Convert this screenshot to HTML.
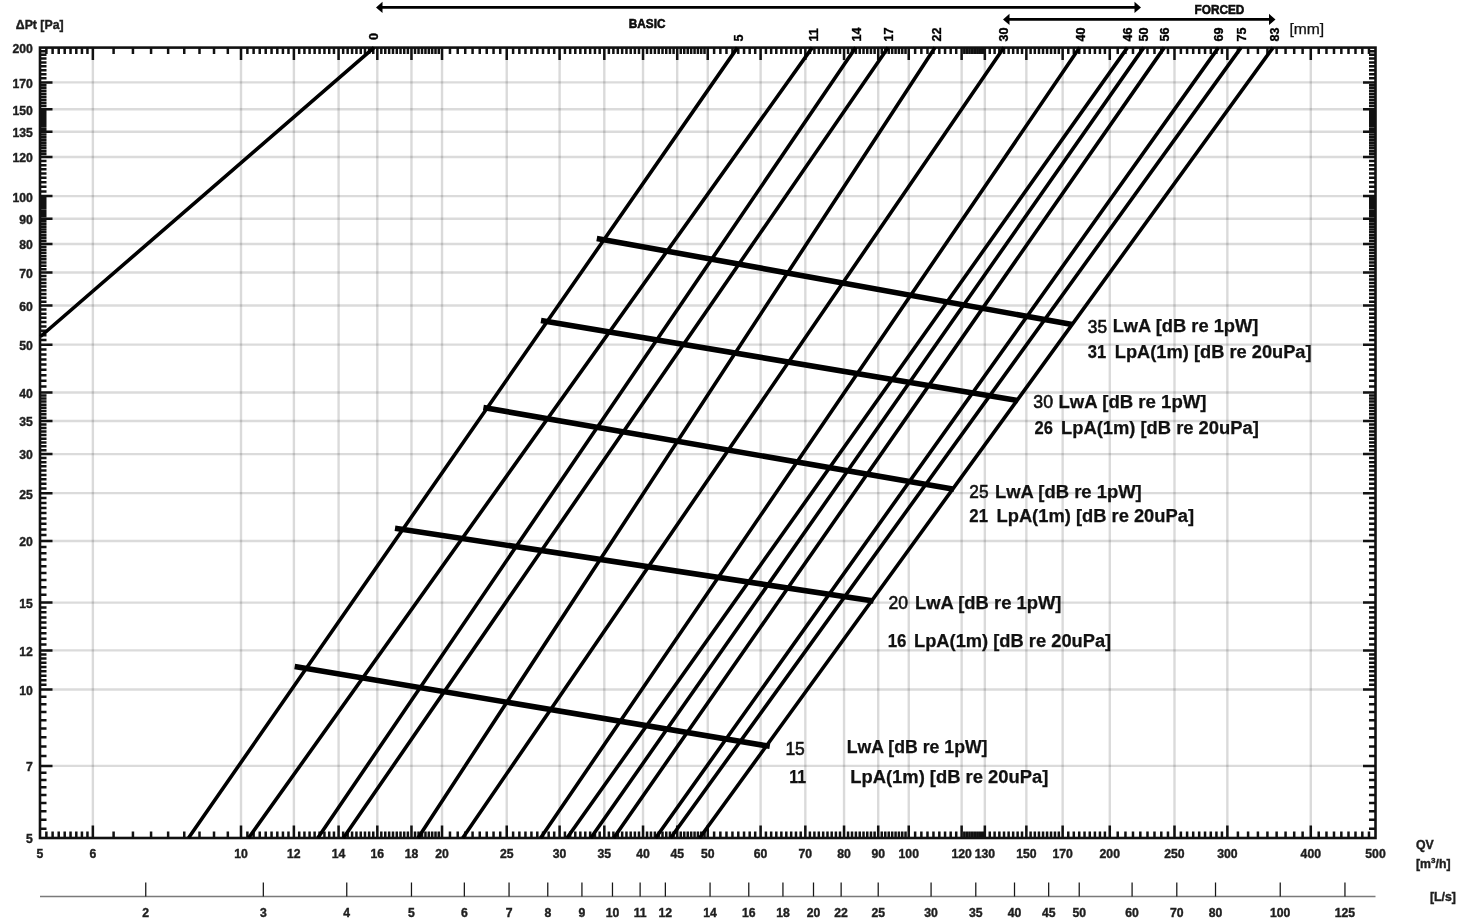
<!DOCTYPE html>
<html><head><meta charset="utf-8"><title>Chart</title>
<style>html,body{margin:0;padding:0;background:#fff;}svg{display:block;}</style>
</head><body>
<svg width="1466" height="922" viewBox="0 0 1466 922">
<rect width="1466" height="922" fill="#fff"/>
<path d="M92.87 47.6V838M241.01 47.6V838M293.89 47.6V838M338.59 47.6V838M377.31 47.6V838M411.47 47.6V838M442.03 47.6V838M506.74 47.6V838M559.61 47.6V838M604.31 47.6V838M643.04 47.6V838M677.2 47.6V838M707.75 47.6V838M760.62 47.6V838M805.33 47.6V838M844.05 47.6V838M878.21 47.6V838M908.76 47.6V838M961.64 47.6V838M984.85 47.6V838M1026.35 47.6V838M1062.65 47.6V838M1109.78 47.6V838M1174.49 47.6V838M1227.36 47.6V838M1310.79 47.6V838" stroke="#000" stroke-opacity="0.145" stroke-width="2.4" fill="none"/>
<path d="M40 765.91H1375.5M40 689.48H1375.5M40 650.42H1375.5M40 602.61H1375.5M40 540.96H1375.5M40 493.15H1375.5M40 454.09H1375.5M40 421.06H1375.5M40 392.45H1375.5M40 344.64H1375.5M40 305.57H1375.5M40 272.54H1375.5M40 243.93H1375.5M40 218.69H1375.5M40 196.12H1375.5M40 157.05H1375.5M40 131.82H1375.5M40 109.24H1375.5M40 82.42H1375.5" stroke="#000" stroke-opacity="0.14" stroke-width="2.4" fill="none"/>
<path d="M46.37 838v-6.5M46.37 47.6v6.5M52.61 838v-6.5M52.61 47.6v6.5M58.72 838v-6.5M58.72 47.6v6.5M64.7 838v-6.5M64.7 47.6v6.5M70.55 838v-6.5M70.55 47.6v6.5M76.3 838v-6.5M76.3 47.6v6.5M81.93 838v-6.5M81.93 47.6v6.5M87.45 838v-6.5M87.45 47.6v6.5M113.6 838v-6.5M113.6 47.6v6.5M132.94 838v-6.5M132.94 47.6v6.5M151.07 838v-6.5M151.07 47.6v6.5M168.13 838v-6.5M168.13 47.6v6.5M184.25 838v-6.5M184.25 47.6v6.5M199.51 838v-6.5M199.51 47.6v6.5M214.02 838v-6.5M214.02 47.6v6.5M227.83 838v-6.5M227.83 47.6v6.5M247.39 838v-6.5M247.39 47.6v6.5M253.62 838v-6.5M253.62 47.6v6.5M259.73 838v-6.5M259.73 47.6v6.5M265.71 838v-6.5M265.71 47.6v6.5M271.57 838v-6.5M271.57 47.6v6.5M277.31 838v-6.5M277.31 47.6v6.5M282.94 838v-6.5M282.94 47.6v6.5M288.47 838v-6.5M288.47 47.6v6.5M299.21 838v-6.5M299.21 47.6v6.5M304.43 838v-6.5M304.43 47.6v6.5M309.57 838v-6.5M309.57 47.6v6.5M314.61 838v-6.5M314.61 47.6v6.5M319.57 838v-6.5M319.57 47.6v6.5M324.44 838v-6.5M324.44 47.6v6.5M329.23 838v-6.5M329.23 47.6v6.5M333.95 838v-6.5M333.95 47.6v6.5M343.16 838v-6.5M343.16 47.6v6.5M347.65 838v-6.5M347.65 47.6v6.5M352.08 838v-6.5M352.08 47.6v6.5M356.44 838v-6.5M356.44 47.6v6.5M360.74 838v-6.5M360.74 47.6v6.5M364.97 838v-6.5M364.97 47.6v6.5M369.14 838v-6.5M369.14 47.6v6.5M373.26 838v-6.5M373.26 47.6v6.5M381.31 838v-6.5M381.31 47.6v6.5M385.26 838v-6.5M385.26 47.6v6.5M389.15 838v-6.5M389.15 47.6v6.5M392.99 838v-6.5M392.99 47.6v6.5M396.78 838v-6.5M396.78 47.6v6.5M400.53 838v-6.5M400.53 47.6v6.5M404.22 838v-6.5M404.22 47.6v6.5M407.87 838v-6.5M407.87 47.6v6.5M415.03 838v-6.5M415.03 47.6v6.5M418.54 838v-6.5M418.54 47.6v6.5M422.02 838v-6.5M422.02 47.6v6.5M425.45 838v-6.5M425.45 47.6v6.5M428.84 838v-6.5M428.84 47.6v6.5M432.19 838v-6.5M432.19 47.6v6.5M435.51 838v-6.5M435.51 47.6v6.5M438.79 838v-6.5M438.79 47.6v6.5M449.97 838v-6.5M449.97 47.6v6.5M457.71 838v-6.5M457.71 47.6v6.5M465.24 838v-6.5M465.24 47.6v6.5M472.58 838v-6.5M472.58 47.6v6.5M479.74 838v-6.5M479.74 47.6v6.5M486.73 838v-6.5M486.73 47.6v6.5M493.55 838v-6.5M493.55 47.6v6.5M500.22 838v-6.5M500.22 47.6v6.5M513.11 838v-6.5M513.11 47.6v6.5M519.35 838v-6.5M519.35 47.6v6.5M525.45 838v-6.5M525.45 47.6v6.5M531.43 838v-6.5M531.43 47.6v6.5M537.29 838v-6.5M537.29 47.6v6.5M543.03 838v-6.5M543.03 47.6v6.5M548.67 838v-6.5M548.67 47.6v6.5M554.19 838v-6.5M554.19 47.6v6.5M564.93 838v-6.5M564.93 47.6v6.5M570.16 838v-6.5M570.16 47.6v6.5M575.29 838v-6.5M575.29 47.6v6.5M580.33 838v-6.5M580.33 47.6v6.5M585.29 838v-6.5M585.29 47.6v6.5M590.17 838v-6.5M590.17 47.6v6.5M594.96 838v-6.5M594.96 47.6v6.5M599.67 838v-6.5M599.67 47.6v6.5M608.88 838v-6.5M608.88 47.6v6.5M613.38 838v-6.5M613.38 47.6v6.5M617.81 838v-6.5M617.81 47.6v6.5M622.17 838v-6.5M622.17 47.6v6.5M626.46 838v-6.5M626.46 47.6v6.5M630.7 838v-6.5M630.7 47.6v6.5M634.87 838v-6.5M634.87 47.6v6.5M638.98 838v-6.5M638.98 47.6v6.5M647.04 838v-6.5M647.04 47.6v6.5M650.98 838v-6.5M650.98 47.6v6.5M654.88 838v-6.5M654.88 47.6v6.5M658.72 838v-6.5M658.72 47.6v6.5M662.51 838v-6.5M662.51 47.6v6.5M666.25 838v-6.5M666.25 47.6v6.5M669.95 838v-6.5M669.95 47.6v6.5M673.59 838v-6.5M673.59 47.6v6.5M680.75 838v-6.5M680.75 47.6v6.5M684.27 838v-6.5M684.27 47.6v6.5M687.74 838v-6.5M687.74 47.6v6.5M691.17 838v-6.5M691.17 47.6v6.5M694.57 838v-6.5M694.57 47.6v6.5M697.92 838v-6.5M697.92 47.6v6.5M701.23 838v-6.5M701.23 47.6v6.5M704.51 838v-6.5M704.51 47.6v6.5M714.12 838v-6.5M714.12 47.6v6.5M720.36 838v-6.5M720.36 47.6v6.5M726.47 838v-6.5M726.47 47.6v6.5M732.45 838v-6.5M732.45 47.6v6.5M738.3 838v-6.5M738.3 47.6v6.5M744.05 838v-6.5M744.05 47.6v6.5M749.68 838v-6.5M749.68 47.6v6.5M755.2 838v-6.5M755.2 47.6v6.5M765.94 838v-6.5M765.94 47.6v6.5M771.17 838v-6.5M771.17 47.6v6.5M776.3 838v-6.5M776.3 47.6v6.5M781.35 838v-6.5M781.35 47.6v6.5M786.3 838v-6.5M786.3 47.6v6.5M791.18 838v-6.5M791.18 47.6v6.5M795.97 838v-6.5M795.97 47.6v6.5M800.69 838v-6.5M800.69 47.6v6.5M809.89 838v-6.5M809.89 47.6v6.5M814.39 838v-6.5M814.39 47.6v6.5M818.82 838v-6.5M818.82 47.6v6.5M823.18 838v-6.5M823.18 47.6v6.5M827.48 838v-6.5M827.48 47.6v6.5M831.71 838v-6.5M831.71 47.6v6.5M835.88 838v-6.5M835.88 47.6v6.5M840 838v-6.5M840 47.6v6.5M848.05 838v-6.5M848.05 47.6v6.5M852 838v-6.5M852 47.6v6.5M855.89 838v-6.5M855.89 47.6v6.5M859.73 838v-6.5M859.73 47.6v6.5M863.52 838v-6.5M863.52 47.6v6.5M867.26 838v-6.5M867.26 47.6v6.5M870.96 838v-6.5M870.96 47.6v6.5M874.61 838v-6.5M874.61 47.6v6.5M881.77 838v-6.5M881.77 47.6v6.5M885.28 838v-6.5M885.28 47.6v6.5M888.75 838v-6.5M888.75 47.6v6.5M892.19 838v-6.5M892.19 47.6v6.5M895.58 838v-6.5M895.58 47.6v6.5M898.93 838v-6.5M898.93 47.6v6.5M902.25 838v-6.5M902.25 47.6v6.5M905.52 838v-6.5M905.52 47.6v6.5M915.14 838v-6.5M915.14 47.6v6.5M921.37 838v-6.5M921.37 47.6v6.5M927.48 838v-6.5M927.48 47.6v6.5M933.46 838v-6.5M933.46 47.6v6.5M939.32 838v-6.5M939.32 47.6v6.5M945.06 838v-6.5M945.06 47.6v6.5M950.69 838v-6.5M950.69 47.6v6.5M956.22 838v-6.5M956.22 47.6v6.5M964.31 838v-6.5M964.31 47.6v6.5M966.96 838v-6.5M966.96 47.6v6.5M969.58 838v-6.5M969.58 47.6v6.5M972.18 838v-6.5M972.18 47.6v6.5M974.76 838v-6.5M974.76 47.6v6.5M977.32 838v-6.5M977.32 47.6v6.5M979.85 838v-6.5M979.85 47.6v6.5M982.36 838v-6.5M982.36 47.6v6.5M989.76 838v-6.5M989.76 47.6v6.5M994.6 838v-6.5M994.6 47.6v6.5M999.35 838v-6.5M999.35 47.6v6.5M1004.03 838v-6.5M1004.03 47.6v6.5M1008.63 838v-6.5M1008.63 47.6v6.5M1013.16 838v-6.5M1013.16 47.6v6.5M1017.63 838v-6.5M1017.63 47.6v6.5M1022.02 838v-6.5M1022.02 47.6v6.5M1030.61 838v-6.5M1030.61 47.6v6.5M1034.82 838v-6.5M1034.82 47.6v6.5M1038.96 838v-6.5M1038.96 47.6v6.5M1043.04 838v-6.5M1043.04 47.6v6.5M1047.07 838v-6.5M1047.07 47.6v6.5M1051.04 838v-6.5M1051.04 47.6v6.5M1054.96 838v-6.5M1054.96 47.6v6.5M1058.83 838v-6.5M1058.83 47.6v6.5M1068.28 838v-6.5M1068.28 47.6v6.5M1073.8 838v-6.5M1073.8 47.6v6.5M1079.22 838v-6.5M1079.22 47.6v6.5M1084.54 838v-6.5M1084.54 47.6v6.5M1089.77 838v-6.5M1089.77 47.6v6.5M1094.9 838v-6.5M1094.9 47.6v6.5M1099.94 838v-6.5M1099.94 47.6v6.5M1104.9 838v-6.5M1104.9 47.6v6.5M1117.72 838v-6.5M1117.72 47.6v6.5M1125.46 838v-6.5M1125.46 47.6v6.5M1132.99 838v-6.5M1132.99 47.6v6.5M1140.33 838v-6.5M1140.33 47.6v6.5M1147.49 838v-6.5M1147.49 47.6v6.5M1154.48 838v-6.5M1154.48 47.6v6.5M1161.3 838v-6.5M1161.3 47.6v6.5M1167.97 838v-6.5M1167.97 47.6v6.5M1180.86 838v-6.5M1180.86 47.6v6.5M1187.1 838v-6.5M1187.1 47.6v6.5M1193.2 838v-6.5M1193.2 47.6v6.5M1199.18 838v-6.5M1199.18 47.6v6.5M1205.04 838v-6.5M1205.04 47.6v6.5M1210.78 838v-6.5M1210.78 47.6v6.5M1216.42 838v-6.5M1216.42 47.6v6.5M1221.94 838v-6.5M1221.94 47.6v6.5M1237.91 838v-6.5M1237.91 47.6v6.5M1248.08 838v-6.5M1248.08 47.6v6.5M1257.92 838v-6.5M1257.92 47.6v6.5M1267.42 838v-6.5M1267.42 47.6v6.5M1276.63 838v-6.5M1276.63 47.6v6.5M1285.56 838v-6.5M1285.56 47.6v6.5M1294.21 838v-6.5M1294.21 47.6v6.5M1302.62 838v-6.5M1302.62 47.6v6.5M1318.73 838v-6.5M1318.73 47.6v6.5M1326.47 838v-6.5M1326.47 47.6v6.5M1334 838v-6.5M1334 47.6v6.5M1341.34 838v-6.5M1341.34 47.6v6.5M1348.5 838v-6.5M1348.5 47.6v6.5M1355.49 838v-6.5M1355.49 47.6v6.5M1362.32 838v-6.5M1362.32 47.6v6.5M1368.98 838v-6.5M1368.98 47.6v6.5M92.87 838v-12.5M92.87 47.6v12.5M241.01 838v-12.5M241.01 47.6v12.5M293.89 838v-12.5M293.89 47.6v12.5M338.59 838v-12.5M338.59 47.6v12.5M377.31 838v-12.5M377.31 47.6v12.5M411.47 838v-12.5M411.47 47.6v12.5M442.03 838v-12.5M442.03 47.6v12.5M506.74 838v-12.5M506.74 47.6v12.5M559.61 838v-12.5M559.61 47.6v12.5M604.31 838v-12.5M604.31 47.6v12.5M643.04 838v-12.5M643.04 47.6v12.5M677.2 838v-12.5M677.2 47.6v12.5M707.75 838v-12.5M707.75 47.6v12.5M760.62 838v-12.5M760.62 47.6v12.5M805.33 838v-12.5M805.33 47.6v12.5M844.05 838v-12.5M844.05 47.6v12.5M878.21 838v-12.5M878.21 47.6v12.5M908.76 838v-12.5M908.76 47.6v12.5M961.64 838v-12.5M961.64 47.6v12.5M984.85 838v-12.5M984.85 47.6v12.5M1026.35 838v-12.5M1026.35 47.6v12.5M1062.65 838v-12.5M1062.65 47.6v12.5M1109.78 838v-12.5M1109.78 47.6v12.5M1174.49 838v-12.5M1174.49 47.6v12.5M1227.36 838v-12.5M1227.36 47.6v12.5M1310.79 838v-12.5M1310.79 47.6v12.5M40 828.68h6.5M1375.5 828.68h-6.5M40 819.75h6.5M1375.5 819.75h-6.5M40 811.18h6.5M1375.5 811.18h-6.5M40 802.94h6.5M1375.5 802.94h-6.5M40 795h6.5M1375.5 795h-6.5M40 787.35h6.5M1375.5 787.35h-6.5M40 779.96h6.5M1375.5 779.96h-6.5M40 772.82h6.5M1375.5 772.82h-6.5M40 755.94h6.5M1375.5 755.94h-6.5M40 746.41h6.5M1375.5 746.41h-6.5M40 737.29h6.5M1375.5 737.29h-6.5M40 728.55h6.5M1375.5 728.55h-6.5M40 720.14h6.5M1375.5 720.14h-6.5M40 712.06h6.5M1375.5 712.06h-6.5M40 704.27h6.5M1375.5 704.27h-6.5M40 696.75h6.5M1375.5 696.75h-6.5M40 684.77h6.5M1375.5 684.77h-6.5M40 680.17h6.5M1375.5 680.17h-6.5M40 675.65h6.5M1375.5 675.65h-6.5M40 671.24h6.5M1375.5 671.24h-6.5M40 666.91h6.5M1375.5 666.91h-6.5M40 662.66h6.5M1375.5 662.66h-6.5M40 658.5h6.5M1375.5 658.5h-6.5M40 654.42h6.5M1375.5 654.42h-6.5M40 644.55h6.5M1375.5 644.55h-6.5M40 638.83h6.5M1375.5 638.83h-6.5M40 633.27h6.5M1375.5 633.27h-6.5M40 627.84h6.5M1375.5 627.84h-6.5M40 622.55h6.5M1375.5 622.55h-6.5M40 617.39h6.5M1375.5 617.39h-6.5M40 612.35h6.5M1375.5 612.35h-6.5M40 607.42h6.5M1375.5 607.42h-6.5M40 594.81h6.5M1375.5 594.81h-6.5M40 587.29h6.5M1375.5 587.29h-6.5M40 580.03h6.5M1375.5 580.03h-6.5M40 573h6.5M1375.5 573h-6.5M40 566.2h6.5M1375.5 566.2h-6.5M40 559.61h6.5M1375.5 559.61h-6.5M40 553.21h6.5M1375.5 553.21h-6.5M40 547h6.5M1375.5 547h-6.5M40 535.09h6.5M1375.5 535.09h-6.5M40 529.38h6.5M1375.5 529.38h-6.5M40 523.81h6.5M1375.5 523.81h-6.5M40 518.39h6.5M1375.5 518.39h-6.5M40 513.1h6.5M1375.5 513.1h-6.5M40 507.94h6.5M1375.5 507.94h-6.5M40 502.89h6.5M1375.5 502.89h-6.5M40 497.97h6.5M1375.5 497.97h-6.5M40 488.44h6.5M1375.5 488.44h-6.5M40 483.84h6.5M1375.5 483.84h-6.5M40 479.32h6.5M1375.5 479.32h-6.5M40 474.91h6.5M1375.5 474.91h-6.5M40 470.58h6.5M1375.5 470.58h-6.5M40 466.33h6.5M1375.5 466.33h-6.5M40 462.17h6.5M1375.5 462.17h-6.5M40 458.09h6.5M1375.5 458.09h-6.5M40 450.16h6.5M1375.5 450.16h-6.5M40 446.3h6.5M1375.5 446.3h-6.5M40 442.5h6.5M1375.5 442.5h-6.5M40 438.78h6.5M1375.5 438.78h-6.5M40 435.11h6.5M1375.5 435.11h-6.5M40 431.51h6.5M1375.5 431.51h-6.5M40 427.97h6.5M1375.5 427.97h-6.5M40 424.49h6.5M1375.5 424.49h-6.5M40 417.68h6.5M1375.5 417.68h-6.5M40 414.36h6.5M1375.5 414.36h-6.5M40 411.09h6.5M1375.5 411.09h-6.5M40 407.87h6.5M1375.5 407.87h-6.5M40 404.69h6.5M1375.5 404.69h-6.5M40 401.57h6.5M1375.5 401.57h-6.5M40 398.48h6.5M1375.5 398.48h-6.5M40 395.44h6.5M1375.5 395.44h-6.5M40 386.58h6.5M1375.5 386.58h-6.5M40 380.86h6.5M1375.5 380.86h-6.5M40 375.3h6.5M1375.5 375.3h-6.5M40 369.87h6.5M1375.5 369.87h-6.5M40 364.58h6.5M1375.5 364.58h-6.5M40 359.42h6.5M1375.5 359.42h-6.5M40 354.38h6.5M1375.5 354.38h-6.5M40 349.45h6.5M1375.5 349.45h-6.5M40 339.93h6.5M1375.5 339.93h-6.5M40 335.32h6.5M1375.5 335.32h-6.5M40 330.81h6.5M1375.5 330.81h-6.5M40 326.39h6.5M1375.5 326.39h-6.5M40 322.06h6.5M1375.5 322.06h-6.5M40 317.82h6.5M1375.5 317.82h-6.5M40 313.66h6.5M1375.5 313.66h-6.5M40 309.58h6.5M1375.5 309.58h-6.5M40 301.64h6.5M1375.5 301.64h-6.5M40 297.78h6.5M1375.5 297.78h-6.5M40 293.99h6.5M1375.5 293.99h-6.5M40 290.26h6.5M1375.5 290.26h-6.5M40 286.6h6.5M1375.5 286.6h-6.5M40 282.99h6.5M1375.5 282.99h-6.5M40 279.45h6.5M1375.5 279.45h-6.5M40 275.97h6.5M1375.5 275.97h-6.5M40 269.17h6.5M1375.5 269.17h-6.5M40 265.84h6.5M1375.5 265.84h-6.5M40 262.57h6.5M1375.5 262.57h-6.5M40 259.35h6.5M1375.5 259.35h-6.5M40 256.18h6.5M1375.5 256.18h-6.5M40 253.05h6.5M1375.5 253.05h-6.5M40 249.97h6.5M1375.5 249.97h-6.5M40 246.93h6.5M1375.5 246.93h-6.5M40 240.97h6.5M1375.5 240.97h-6.5M40 238.06h6.5M1375.5 238.06h-6.5M40 235.18h6.5M1375.5 235.18h-6.5M40 232.34h6.5M1375.5 232.34h-6.5M40 229.54h6.5M1375.5 229.54h-6.5M40 226.78h6.5M1375.5 226.78h-6.5M40 224.05h6.5M1375.5 224.05h-6.5M40 221.35h6.5M1375.5 221.35h-6.5M40 216.06h6.5M1375.5 216.06h-6.5M40 213.47h6.5M1375.5 213.47h-6.5M40 210.9h6.5M1375.5 210.9h-6.5M40 208.36h6.5M1375.5 208.36h-6.5M40 205.86h6.5M1375.5 205.86h-6.5M40 203.38h6.5M1375.5 203.38h-6.5M40 200.93h6.5M1375.5 200.93h-6.5M40 198.51h6.5M1375.5 198.51h-6.5M40 191.41h6.5M1375.5 191.41h-6.5M40 186.8h6.5M1375.5 186.8h-6.5M40 182.29h6.5M1375.5 182.29h-6.5M40 177.87h6.5M1375.5 177.87h-6.5M40 173.54h6.5M1375.5 173.54h-6.5M40 169.3h6.5M1375.5 169.3h-6.5M40 165.14h6.5M1375.5 165.14h-6.5M40 161.06h6.5M1375.5 161.06h-6.5M40 154.1h6.5M1375.5 154.1h-6.5M40 151.18h6.5M1375.5 151.18h-6.5M40 148.31h6.5M1375.5 148.31h-6.5M40 145.47h6.5M1375.5 145.47h-6.5M40 142.67h6.5M1375.5 142.67h-6.5M40 139.9h6.5M1375.5 139.9h-6.5M40 137.17h6.5M1375.5 137.17h-6.5M40 134.48h6.5M1375.5 134.48h-6.5M40 129.19h6.5M1375.5 129.19h-6.5M40 126.59h6.5M1375.5 126.59h-6.5M40 124.02h6.5M1375.5 124.02h-6.5M40 121.49h6.5M1375.5 121.49h-6.5M40 118.98h6.5M1375.5 118.98h-6.5M40 116.5h6.5M1375.5 116.5h-6.5M40 114.06h6.5M1375.5 114.06h-6.5M40 111.63h6.5M1375.5 111.63h-6.5M40 106.09h6.5M1375.5 106.09h-6.5M40 102.98h6.5M1375.5 102.98h-6.5M40 99.92h6.5M1375.5 99.92h-6.5M40 96.91h6.5M1375.5 96.91h-6.5M40 93.93h6.5M1375.5 93.93h-6.5M40 90.99h6.5M1375.5 90.99h-6.5M40 88.1h6.5M1375.5 88.1h-6.5M40 85.24h6.5M1375.5 85.24h-6.5M40 78.26h6.5M1375.5 78.26h-6.5M40 74.18h6.5M1375.5 74.18h-6.5M40 70.18h6.5M1375.5 70.18h-6.5M40 66.24h6.5M1375.5 66.24h-6.5M40 62.38h6.5M1375.5 62.38h-6.5M40 58.59h6.5M1375.5 58.59h-6.5M40 54.86h6.5M1375.5 54.86h-6.5M40 51.2h6.5M1375.5 51.2h-6.5M40 765.91h12.5M1375.5 765.91h-12.5M40 689.48h12.5M1375.5 689.48h-12.5M40 650.42h12.5M1375.5 650.42h-12.5M40 602.61h12.5M1375.5 602.61h-12.5M40 540.96h12.5M1375.5 540.96h-12.5M40 493.15h12.5M1375.5 493.15h-12.5M40 454.09h12.5M1375.5 454.09h-12.5M40 421.06h12.5M1375.5 421.06h-12.5M40 392.45h12.5M1375.5 392.45h-12.5M40 344.64h12.5M1375.5 344.64h-12.5M40 305.57h12.5M1375.5 305.57h-12.5M40 272.54h12.5M1375.5 272.54h-12.5M40 243.93h12.5M1375.5 243.93h-12.5M40 218.69h12.5M1375.5 218.69h-12.5M40 196.12h12.5M1375.5 196.12h-12.5M40 157.05h12.5M1375.5 157.05h-12.5M40 131.82h12.5M1375.5 131.82h-12.5M40 109.24h12.5M1375.5 109.24h-12.5M40 82.42h12.5M1375.5 82.42h-12.5" stroke="#111" stroke-width="2.5" fill="none"/>
<rect x="40" y="47.6" width="1335.5" height="790.4" fill="none" stroke="#111" stroke-width="2.6"/>
<path d="M374 47.6L40.5 336.5M737.4 47.6L188.5 838M812.2 47.6L248.6 838M855.7 47.6L317.8 838M888.1 47.6L343.4 838M935 47.6L418 838M1003.9 47.6L462.7 838M1079.6 47.6L540.6 838M1127.4 47.6L567 838M1143.7 47.6L590.8 838M1164.2 47.6L613.7 838M1218.4 47.6L655.6 838M1241 47.6L670.6 838M1273 47.6L699.6 838" stroke="#000" stroke-width="3.6" fill="none"/>
<path d="M596.8 238.4L1072.2 324.6M541 320.4L1017.8 400.6M483.4 407.6L954 489.2M395 528.2L873.5 601.1M294.7 666.6L769.8 746.3" stroke="#000" stroke-width="5.6" fill="none"/>
<path d="M40 896.6H1375.5" stroke="#7a7a7a" stroke-width="1.5"/>
<path d="M145.75 896.6V882.4M263.33 896.6V882.4M346.76 896.6V882.4M411.47 896.6V882.4M464.34 896.6V882.4M509.05 896.6V882.4M547.77 896.6V882.4M581.93 896.6V882.4M612.48 896.6V882.4M640.12 896.6V882.4M665.36 896.6V882.4M710.06 896.6V882.4M748.78 896.6V882.4M782.94 896.6V882.4M813.5 896.6V882.4M841.14 896.6V882.4M878.21 896.6V882.4M931.08 896.6V882.4M975.79 896.6V882.4M1014.51 896.6V882.4M1048.67 896.6V882.4M1079.22 896.6V882.4M1132.09 896.6V882.4M1176.8 896.6V882.4M1215.52 896.6V882.4M1280.23 896.6V882.4M1344.95 896.6V882.4" stroke="#161616" stroke-width="1.25"/>
<path d="M382 7.4H1135M1008.6 19.4H1269.3" stroke="#000" stroke-width="2.8"/>
<path d="M376 7.4L382.5 1.8V13Z M1141 7.4L1134.5 1.8V13Z M1003 19.4L1009.5 13.8V25Z M1275.5 19.4L1269 13.8V25Z" fill="#000"/>
<g font-family="'Liberation Sans', Arial, Helvetica, sans-serif" font-weight="bold" fill="#1e1e1e" stroke="#1e1e1e" stroke-width="0.4" font-size="12.2">
<text x="32.8" y="843.4" text-anchor="end">5</text>
<text x="32.8" y="771.31" text-anchor="end">7</text>
<text x="32.8" y="694.88" text-anchor="end">10</text>
<text x="32.8" y="655.82" text-anchor="end">12</text>
<text x="32.8" y="608.01" text-anchor="end">15</text>
<text x="32.8" y="546.36" text-anchor="end">20</text>
<text x="32.8" y="498.55" text-anchor="end">25</text>
<text x="32.8" y="459.49" text-anchor="end">30</text>
<text x="32.8" y="426.46" text-anchor="end">35</text>
<text x="32.8" y="397.85" text-anchor="end">40</text>
<text x="32.8" y="350.04" text-anchor="end">50</text>
<text x="32.8" y="310.97" text-anchor="end">60</text>
<text x="32.8" y="277.94" text-anchor="end">70</text>
<text x="32.8" y="249.33" text-anchor="end">80</text>
<text x="32.8" y="224.09" text-anchor="end">90</text>
<text x="32.8" y="201.52" text-anchor="end">100</text>
<text x="32.8" y="162.45" text-anchor="end">120</text>
<text x="32.8" y="137.22" text-anchor="end">135</text>
<text x="32.8" y="114.64" text-anchor="end">150</text>
<text x="32.8" y="87.82" text-anchor="end">170</text>
<text x="32.8" y="53" text-anchor="end">200</text>
<text x="40" y="858" text-anchor="middle">5</text>
<text x="92.87" y="858" text-anchor="middle">6</text>
<text x="241.01" y="858" text-anchor="middle">10</text>
<text x="293.89" y="858" text-anchor="middle">12</text>
<text x="338.59" y="858" text-anchor="middle">14</text>
<text x="377.31" y="858" text-anchor="middle">16</text>
<text x="411.47" y="858" text-anchor="middle">18</text>
<text x="442.03" y="858" text-anchor="middle">20</text>
<text x="506.74" y="858" text-anchor="middle">25</text>
<text x="559.61" y="858" text-anchor="middle">30</text>
<text x="604.31" y="858" text-anchor="middle">35</text>
<text x="643.04" y="858" text-anchor="middle">40</text>
<text x="677.2" y="858" text-anchor="middle">45</text>
<text x="707.75" y="858" text-anchor="middle">50</text>
<text x="760.62" y="858" text-anchor="middle">60</text>
<text x="805.33" y="858" text-anchor="middle">70</text>
<text x="844.05" y="858" text-anchor="middle">80</text>
<text x="878.21" y="858" text-anchor="middle">90</text>
<text x="908.76" y="858" text-anchor="middle">100</text>
<text x="961.64" y="858" text-anchor="middle">120</text>
<text x="984.85" y="858" text-anchor="middle">130</text>
<text x="1026.35" y="858" text-anchor="middle">150</text>
<text x="1062.65" y="858" text-anchor="middle">170</text>
<text x="1109.78" y="858" text-anchor="middle">200</text>
<text x="1174.49" y="858" text-anchor="middle">250</text>
<text x="1227.36" y="858" text-anchor="middle">300</text>
<text x="1310.79" y="858" text-anchor="middle">400</text>
<text x="1375.5" y="858" text-anchor="middle">500</text>
<text x="145.75" y="917.3" text-anchor="middle">2</text>
<text x="263.33" y="917.3" text-anchor="middle">3</text>
<text x="346.76" y="917.3" text-anchor="middle">4</text>
<text x="411.47" y="917.3" text-anchor="middle">5</text>
<text x="464.34" y="917.3" text-anchor="middle">6</text>
<text x="509.05" y="917.3" text-anchor="middle">7</text>
<text x="547.77" y="917.3" text-anchor="middle">8</text>
<text x="581.93" y="917.3" text-anchor="middle">9</text>
<text x="612.48" y="917.3" text-anchor="middle">10</text>
<text x="640.12" y="917.3" text-anchor="middle">11</text>
<text x="665.36" y="917.3" text-anchor="middle">12</text>
<text x="710.06" y="917.3" text-anchor="middle">14</text>
<text x="748.78" y="917.3" text-anchor="middle">16</text>
<text x="782.94" y="917.3" text-anchor="middle">18</text>
<text x="813.5" y="917.3" text-anchor="middle">20</text>
<text x="841.14" y="917.3" text-anchor="middle">22</text>
<text x="878.21" y="917.3" text-anchor="middle">25</text>
<text x="931.08" y="917.3" text-anchor="middle">30</text>
<text x="975.79" y="917.3" text-anchor="middle">35</text>
<text x="1014.51" y="917.3" text-anchor="middle">40</text>
<text x="1048.67" y="917.3" text-anchor="middle">45</text>
<text x="1079.22" y="917.3" text-anchor="middle">50</text>
<text x="1132.09" y="917.3" text-anchor="middle">60</text>
<text x="1176.8" y="917.3" text-anchor="middle">70</text>
<text x="1215.52" y="917.3" text-anchor="middle">80</text>
<text x="1280.23" y="917.3" text-anchor="middle">100</text>
<text x="1344.95" y="917.3" text-anchor="middle">125</text>
<text x="15.8" y="29.4" font-size="12.3">&#916;Pt [Pa]</text>
<text x="1416" y="848.6" font-size="12.3">QV</text>
<text x="1416" y="867.6" font-size="12.3">[m<tspan font-size="8" dy="-5">3</tspan><tspan dy="5">/h]</tspan></text>
<text x="1430" y="900.7" font-size="12.3">[L/s]</text>
</g>
<g font-family="'Liberation Sans', Arial, Helvetica, sans-serif" font-weight="bold" fill="#000" stroke="#000" stroke-width="0.35" font-size="12.6">
<text transform="translate(377.9 39.9) rotate(-90)">0</text>
<text transform="translate(742.9 41.6) rotate(-90)">5</text>
<text transform="translate(817.8 41.6) rotate(-90)">11</text>
<text transform="translate(861.3 41.6) rotate(-90)">14</text>
<text transform="translate(892.8 41.6) rotate(-90)">17</text>
<text transform="translate(940.5 41.6) rotate(-90)">22</text>
<text transform="translate(1008.4 41.6) rotate(-90)">30</text>
<text transform="translate(1085.1 41.6) rotate(-90)">40</text>
<text transform="translate(1132 41.6) rotate(-90)">46</text>
<text transform="translate(1147.9 41.6) rotate(-90)">50</text>
<text transform="translate(1168.7 41.6) rotate(-90)">56</text>
<text transform="translate(1223.3 41.6) rotate(-90)">69</text>
<text transform="translate(1245.8 41.6) rotate(-90)">75</text>
<text transform="translate(1278.6 41.6) rotate(-90)">83</text>
</g>
<g font-family="'Liberation Sans', Arial, Helvetica, sans-serif" font-weight="bold" fill="#111">
<text x="628.8" y="27.8" font-size="13.6" stroke="#000" stroke-width="0.55" textLength="36.6" lengthAdjust="spacingAndGlyphs">BASIC</text>
<text x="1194.6" y="14.3" font-size="13.3" stroke="#000" stroke-width="0.55" textLength="49.8" lengthAdjust="spacingAndGlyphs">FORCED</text>
<text x="1289.4" y="34.4" font-size="14.5" font-weight="normal" stroke="#111" stroke-width="0.25" textLength="34.8" lengthAdjust="spacingAndGlyphs">[mm]</text>
</g>
<g font-family="'Liberation Sans', Arial, Helvetica, sans-serif" fill="#111" stroke="#111" stroke-width="0.25" font-size="17.5">
<text x="1087.8" y="332.9" font-weight="normal" font-size="18" stroke="#111" stroke-width="0.6" textLength="19.2" lengthAdjust="spacingAndGlyphs">35</text>
<text x="1112.7" y="332.3" font-weight="bold" textLength="145.7" lengthAdjust="spacingAndGlyphs">LwA [dB re 1pW]</text>
<text x="1087.8" y="357.5" font-weight="bold" textLength="18.4" lengthAdjust="spacingAndGlyphs">31</text>
<text x="1114.8" y="357.5" font-weight="bold" textLength="196.8" lengthAdjust="spacingAndGlyphs">LpA(1m) [dB re 20uPa]</text>
<text x="1033.3" y="408.4" font-weight="normal" font-size="18" stroke="#111" stroke-width="0.6" textLength="19.7" lengthAdjust="spacingAndGlyphs">30</text>
<text x="1058.5" y="408.4" font-weight="bold" textLength="148" lengthAdjust="spacingAndGlyphs">LwA [dB re 1pW]</text>
<text x="1034.6" y="434.3" font-weight="bold" textLength="18.4" lengthAdjust="spacingAndGlyphs">26</text>
<text x="1061" y="434.3" font-weight="bold" textLength="197.8" lengthAdjust="spacingAndGlyphs">LpA(1m) [dB re 20uPa]</text>
<text x="969.3" y="497.5" font-weight="normal" font-size="18" stroke="#111" stroke-width="0.6" textLength="19.2" lengthAdjust="spacingAndGlyphs">25</text>
<text x="995" y="497.5" font-weight="bold" textLength="146.7" lengthAdjust="spacingAndGlyphs">LwA [dB re 1pW]</text>
<text x="969.3" y="521.6" font-weight="bold" textLength="18.7" lengthAdjust="spacingAndGlyphs">21</text>
<text x="996.5" y="521.6" font-weight="bold" textLength="197.5" lengthAdjust="spacingAndGlyphs">LpA(1m) [dB re 20uPa]</text>
<text x="888.5" y="608.9" font-weight="normal" font-size="18" stroke="#111" stroke-width="0.6" textLength="19.5" lengthAdjust="spacingAndGlyphs">20</text>
<text x="915" y="608.9" font-weight="bold" textLength="146.4" lengthAdjust="spacingAndGlyphs">LwA [dB re 1pW]</text>
<text x="887.7" y="646.5" font-weight="bold" textLength="18.8" lengthAdjust="spacingAndGlyphs">16</text>
<text x="914" y="646.5" font-weight="bold" textLength="197.2" lengthAdjust="spacingAndGlyphs">LpA(1m) [dB re 20uPa]</text>
<text x="785.4" y="754.6" font-weight="normal" font-size="18" stroke="#111" stroke-width="0.6" textLength="19.4" lengthAdjust="spacingAndGlyphs">15</text>
<text x="846.8" y="752.7" font-weight="bold" textLength="140.7" lengthAdjust="spacingAndGlyphs">LwA [dB re 1pW]</text>
<text x="789.2" y="782.5" font-weight="bold" textLength="16.9" lengthAdjust="spacingAndGlyphs">11</text>
<text x="850.2" y="782.5" font-weight="bold" textLength="198.2" lengthAdjust="spacingAndGlyphs">LpA(1m) [dB re 20uPa]</text>
</g>
</svg>
</body></html>
